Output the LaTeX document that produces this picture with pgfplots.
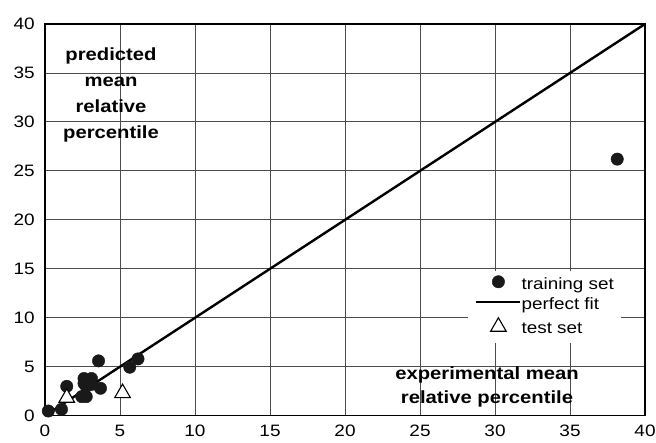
\documentclass[border=0pt]{standalone}
\usepackage{fontspec}
\setmainfont{Liberation Sans}[FakeStretch=1.15]
\usepackage{pgfplots}
\pgfplotsset{compat=1.18}
\pgfplotsset{
  legcirc/.style={legend image code/.code={\draw[##1, mark repeat=2, mark phase=2] plot coordinates {(0pt,4pt) (22pt,4pt) (44pt,4pt)};}},
  legline/.style={legend image code/.code={\draw[##1] (0pt,4pt) -- (44pt,4pt);}},
  legtri/.style={legend image code/.code={\draw[##1, mark repeat=2, mark phase=2] plot coordinates {(0pt,3pt) (22pt,3pt) (44pt,3pt)};}},
}

\begin{document}
\begin{tikzpicture}
\path[use as bounding box] (-45pt,-26.3pt) rectangle (611pt,415.7pt);
\begin{axis}[
  at={(0pt,0pt)}, anchor=south west,
  scale only axis, width=600pt, height=391.7pt,
  xmin=0, xmax=40, ymin=0, ymax=40,
  xtick={0,5,...,40}, ytick={0,5,...,40},
  grid=major, major grid style={black!70, line width=0.9pt},
  axis line style={black, line width=1.2pt},
  major tick length=0pt,
  ticklabel style={font=\fontsize{16.5}{19}\selectfont, inner sep=0pt},
  /pgf/number format/assume math mode=true,
  xticklabel style={yshift=-9.5pt},
  yticklabel style={xshift=-10pt},
  clip=false,
  legend cell align=left,
  legend style={at={(axis cs:28.2,14.84)}, anchor=north west, draw=none, fill=white,
    inner xsep=7pt, inner ysep=5pt, font=\fontsize{16.4}{19}\selectfont,
    nodes={inner sep=0pt, text height=12pt, text depth=4pt}, row sep=4pt,
    /tikz/every even column/.append style={column sep=4pt}},
]
\addplot[only marks, mark=*, mark size=6.2pt, mark options={fill=black!90, draw=black!90}, legcirc]
  coordinates {
  (0.22,0.48) (1.1,0.65) (1.45,3.0) (2.45,1.95) (2.75,1.95)
  (2.6,3.3) (2.6,3.8) (3.1,3.8) (2.75,3.0) (3.1,3.2)
  (3.57,5.6) (3.7,2.8) (5.65,4.95) (6.2,5.8) (38.15,26.2)
  };
\addlegendentry{training set}
\addplot[black, line width=2.4pt, legline]
  coordinates {(0,0) (40,40)};
\addlegendentry{perfect fit}
\addplot[only marks, mark=triangle*, mark size=9pt, mark options={fill=white, draw=black, line width=1.1pt}, legtri]
  coordinates {(1.45,1.83) (5.17,2.31)};
\addlegendentry{test set}
\node[font=\fontsize{17.6}{26}\selectfont\bfseries, align=center] at (axis cs:4.4,32.8)
  {predicted\\mean\\relative\\percentile};
\node[font=\fontsize{17.6}{24}\selectfont\bfseries, align=center] at (axis cs:29.47,2.94)
  {experimental mean\\relative percentile};
\end{axis}
\end{tikzpicture}
\end{document}
